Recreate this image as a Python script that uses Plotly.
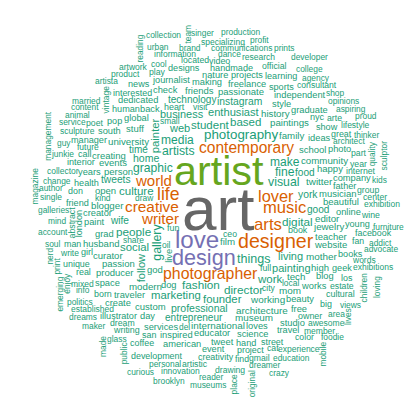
import math
import numpy as np
import plotly.graph_objects as go

# ---- word counts (bigger word = higher count) ----
top_words = ["art", "artist", "love", "design", "designer", "life", "arts", "music", "lover",
             "photographer", "contemporary", "creative", "writer", "world"]
top_freq = [540, 335, 165, 140, 120, 100, 92, 90, 88, 83, 80, 78, 76, 75]

large_words = ["photography", "things", "gallery", "visual", "artists", "fine", "graphic", "make",
               "media", "fashion", "people", "director", "digital", "culture", "based", "student", "work"]
large_freq = [58, 50, 48, 48, 47, 46, 46, 45, 45, 42, 42, 42, 42, 40, 40, 40, 40]

medium_words = ["marketing", "founder", "painter", "social", "enthusiast", "follow", "painting", "living",
                "web", "business", "professional", "home", "york", "instagram", "tweets", "wife", "good",
                "food", "technology", "entrepreneur", "time"]
medium_freq = [38, 38, 38, 38, 36, 36, 35, 35, 35, 34, 30, 30, 28, 28, 27, 26, 26, 26, 25, 25, 25]

common_words = ["international", "architecture", "working", "museum", "mom", "twitter", "mother",
                "paintings", "family", "modern", "tech", "film", "editor", "university", "community",
                "history", "blogger", "jewelry", "events", "teacher", "school", "passion", "passionate",
                "stuff", "website", "creating", "open", "person", "producer", "musician", "friends",
                "custom", "happy", "husband", "beautiful", "god", "curator", "high", "back", "grad", "dog",
                "creator", "ideas", "global", "works", "style", "traveler", "freelance", "day", "loves",
                "making", "paint", "beauty", "services", "educator", "check", "science", "dedicated",
                "inspired", "graduate", "south", "independent", "blog", "space", "photo", "american",
                "tweet", "online", "years", "live", "nature", "studio", "free", "create", "company"]
common_freq = [24, 24, 24, 24, 24, 24, 24, 22, 22, 22, 22, 22, 22, 22, 22, 22, 22, 22, 20, 20, 20, 20,
               20, 20, 20, 20, 20, 20, 20, 20, 20, 20, 20, 20, 20, 20, 20, 20, 18, 18, 18, 18, 18, 18,
               18, 18, 18, 18, 18, 18, 18, 18, 18, 18, 18, 18, 18, 18, 18, 18, 18, 18, 18, 18, 18, 18,
               18, 18, 18, 18, 18, 18, 18, 18, 18]

minor_words = ["journalist", "hand", "show", "pop", "geek", "projects", "health", "handmade", "father",
               "young", "sports", "event", "designs", "friend", "learning", "interior", "human", "news",
               "nyc", "travel", "manager", "london", "books", "illustrator", "girl", "man", "born", "heart",
               "interested", "street", "unique", "don", "owner", "fun", "project", "video", "call", "big",
               "writing", "cultural", "book", "real", "los", "coffee", "creativity", "development",
               "facebook", "san", "great", "abstract", "internet", "full", "ceo", "fan", "find", "official",
               "play", "cat", "year", "color", "group", "located", "dream", "estate", "poet", "wine",
               "arte", "center", "part", "artistic"]
minor_freq = [17, 16, 16, 16, 16, 16, 16, 16, 16, 16, 16, 16, 16, 16, 16, 16, 16, 16, 16, 16, 16, 16,
              16, 16, 16, 14, 14, 14, 14, 14, 14, 14, 14, 14, 14, 14, 14, 14, 14, 14, 14, 14, 14, 14,
              14, 14, 14, 14, 14, 12, 12, 12, 12, 12, 12, 12, 12, 12, 12, 12, 12, 12, 12, 12, 12, 12,
              12, 12, 12, 12]

rare_words = ["consultant", "drawing", "gmail", "research", "exhibition", "communications", "established",
              "specializing", "information", "experience", "area", "change", "architect",
              "content", "personal", "opinions", "junkie", "dreamer", "agency", "small", "aspiring",
              "brand", "advocate", "married", "galleries", "views", "share", "education", "college",
              "account", "children", "service", "developer", "urban", "author", "mind", "quality",
              "politics", "local", "animal", "glass", "kids", "single", "del", "artista", "sculptor",
              "info", "maker", "reading", "nerd", "management", "emerging", "public", "proud", "thinker",
              "soul", "prints", "shop", "reader", "addict", "print", "lives", "original", "enjoy", "city",
              "oil", "mixed", "product", "vintage", "awesome", "innovation", "kind", "artwork",
              "collector", "member", "future", "exhibitions", "lifestyle", "sculpture", "write", "words",
              "cool", "profit", "dreams", "production", "brooklyn", "guy", "singer", "museums",
              "collection", "curious", "crazy", "furniture", "draw", "visit", "dance", "place",
              "magazine", "made", "loving", "team", "mobile", "foodie"]
rare_freq = [11, 11, 11, 10, 10, 10, 10, 10, 10, 10, 9, 9, 9, 9, 9, 9, 9, 9, 9, 9, 9,
             9, 9, 9, 9, 9, 9, 9, 9, 9, 9, 9, 9, 9, 9, 9, 9, 9, 9, 9, 9, 9, 9, 9, 9, 9,
             9, 9, 9, 9, 9, 9, 9, 9, 9, 9, 9, 9, 9, 9, 9, 9, 9, 9, 10, 10, 10, 10, 10, 10, 10,
             10, 10, 10, 10, 10, 10, 10, 10, 10, 10, 10, 9, 9, 9, 9, 9, 9, 9, 9, 9, 9, 9, 9, 9,
             9, 9, 9, 9, 9, 9, 9, 9, 9, 9]

# words drawn vertically in the reference
rotated = {"children", "sculptor", "reading", "nerd", "management", "emerging", "public", "london",
           "follow", "abstract", "gallery", "painter", "live", "vintage", "print", "lives", "original",
           "enjoy", "mobile", "quality", "team", "loving", "made", "magazine", "place"}

words = top_words + large_words + medium_words + common_words + minor_words + rare_words
freq = top_freq + large_freq + medium_freq + common_freq + minor_freq + rare_freq

dark2 = ["#1B9E77", "#D95F02", "#7570B3", "#E7298A", "#66A61E", "#E6AB02", "#A6761D", "#666666"]
FONT = "Liberation Sans, Arial, Helvetica, sans-serif"
MAX_SIZE, MIN_SIZE = 62.0, 7.5
W, H = 419, 400

# helvetica/arial advance widths (per 1000 em)
cw = dict(zip("abcdefghijklmnopqrstuvwxyz",
              [556, 556, 500, 556, 556, 278, 556, 556, 222, 222, 500, 222, 833,
               556, 556, 556, 556, 333, 500, 278, 556, 500, 722, 500, 500, 500]))


def str_w(s, fs):
    return sum(cw.get(c, 556) for c in s) / 1000.0 * fs


# ---- spiral layout like R's wordcloud (ordered by decreasing count) ----
pairs = sorted(zip(words, freq), key=lambda p: -p[1])
fmax = pairs[0][1]
S = 4
mask = np.zeros((H * S, W * S), dtype=bool)
cx, cy = W / 2.0, H / 2.0
r_step = H * 0.05 * 0.1 / (2 * math.pi)
placed = []
for i, (w, f) in enumerate(pairs):
    fs = MIN_SIZE + (MAX_SIZE - MIN_SIZE) * f / fmax
    col = dark2[max(0, math.ceil(8 * f / fmax) - 1)]
    wid = str_w(w, fs)
    ht = 0.716 * fs
    if any(c in w for c in "gjpqy"):
        ht *= 1.2
    rot = w in rotated
    if rot:
        wid, ht = ht, wid
    theta = (i * 2.399963) % (2 * math.pi)
    r = 0.0
    while r < H * math.sqrt(0.5):
        x = cx + r * math.cos(theta)
        y = cy + r * math.sin(theta)
        x0, x1, y0, y1 = x - wid / 2, x + wid / 2, y - ht / 2, y + ht / 2
        if x0 > 0 and y0 > 0 and x1 < W and y1 < H:
            a0, a1 = int(round(x0 * S)), int(round(x1 * S))
            b0, b1 = int(round(y0 * S)), int(round(y1 * S))
            if not mask[b0:b1, a0:a1].any():
                mask[b0:b1, a0:a1] = True
                placed.append((w, x, y, fs, col, rot))
                break
        theta += 0.1
        r += r_step

fig = go.Figure()
for w, x, y, fs, col, rot in placed:
    # annotation box is centred on the point, which puts the caps on the layout box
    fig.add_annotation(x=x, y=y, text=w, textangle=-90 if rot else 0, showarrow=False,
                       xanchor="center", yanchor="middle", borderpad=0, borderwidth=0,
                       font=dict(family=FONT, size=fs, color=col))

fig.update_layout(
    width=W, height=H,
    margin=dict(l=0, r=0, t=0, b=0),
    paper_bgcolor="white", plot_bgcolor="white",
    showlegend=False,
    xaxis=dict(range=[0, W], visible=False, fixedrange=True),
    yaxis=dict(range=[0, H], visible=False, fixedrange=True),
)

fig.write_html("out.html")
